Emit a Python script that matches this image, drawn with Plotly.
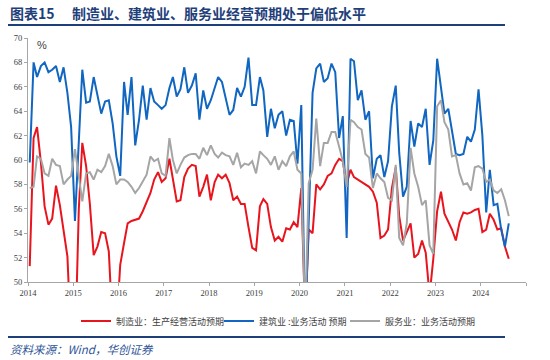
import pandas as pd
import plotly.graph_objects as go

# ---------------- data (monthly, 2014-01 .. 2024-08) ----------------
months = pd.date_range("2014-01-01", periods=128, freq="MS") + pd.Timedelta(days=14)

manufacturing = [
    51.3, 61.8, 62.7, 59.8, 56.2, 54.7, 55.2, 57.9, 56.3, 54.3, 52.1, 45.0,
    44.0, 56.0, 61.4, 59.5, 56.4, 52.2, 52.9, 54.1, 54.0, 52.5, 46.2, 46.0,
    51.4, 53.2, 54.8, 55.0, 55.1, 55.2, 55.8, 56.6, 57.3, 58.4, 59.0, 58.2,
    58.5, 60.1, 58.5, 56.6, 56.7, 58.6, 59.3, 59.6, 59.5, 57.0, 57.8, 58.8,
    56.7, 58.2, 58.8, 58.5, 58.8, 58.1, 56.7, 57.0, 56.4, 56.4, 54.5, 52.8,
    52.6, 56.2, 56.8, 56.4, 54.5, 53.4, 53.7, 53.3, 54.4, 54.3, 54.9, 54.5,
    57.7, 47.0, 54.3, 54.0, 58.0, 57.6, 58.0, 58.7, 58.9, 59.6, 60.1, 59.9,
    58.0, 59.2, 58.6, 58.4, 58.2, 58.0, 57.8, 57.4, 56.5, 53.6, 53.8, 54.3,
    57.7, 59.4, 55.4, 53.4, 54.1, 54.8, 52.0, 52.3, 53.4, 52.4, 48.9, 51.9,
    55.8, 57.4, 55.6, 54.9, 54.3, 53.4, 54.9, 55.7, 55.6, 55.7, 55.9, 56.0,
    54.1, 54.3, 55.6, 55.1, 54.3, 54.4, 52.9, 51.9,
]

construction = [
    59.8, 68.0, 66.8, 67.7, 68.0, 67.2, 67.4, 67.7, 66.4, 67.6, 65.5, 62.7,
    55.0, 61.2, 67.4, 64.7, 64.8, 66.8, 65.3, 63.8, 64.8, 64.9, 63.0, 60.3,
    58.7, 66.4, 63.7, 66.8, 61.2, 63.3, 66.1, 63.3, 65.9, 64.8, 64.5, 64.2,
    64.5, 65.9, 66.8, 65.2, 65.8, 67.6, 65.5, 66.1, 67.1, 63.3, 65.7, 64.2,
    64.9, 65.9, 66.8, 66.4, 65.1, 63.7, 64.1, 65.9, 65.2, 66.0, 68.4, 64.5,
    64.5, 66.8, 65.7, 61.9, 64.2, 62.6, 63.7, 64.0, 62.0, 63.3, 63.2, 59.7,
    64.5, 46.0, 55.0, 65.5, 67.5, 67.9, 66.4, 66.7, 67.9, 67.2, 61.8, 63.6,
    53.6, 68.3, 68.1, 64.9, 65.7, 63.3, 64.0, 58.5, 60.1, 60.4, 58.6, 59.9,
    64.4, 66.1, 60.6, 57.0, 57.8, 63.2, 61.1, 63.0, 62.7, 64.2, 59.6, 61.6,
    68.3, 65.7, 63.8, 64.2, 62.5, 60.5, 60.4, 60.5, 61.9, 61.5, 62.5, 65.8,
    62.0, 55.7, 59.2, 56.3, 56.4, 54.3, 52.9, 54.8,
]

services = [
    57.7, 57.8, 60.3, 60.1, 58.9, 58.7, 60.1, 59.6, 59.5, 58.0, 58.4, 58.7,
    60.9, 58.5, 56.6, 58.9, 59.0, 58.4, 59.2, 59.0, 59.5, 60.5, 59.5, 58.0,
    58.4, 58.4, 58.2, 57.8, 57.3, 57.7, 58.2, 58.8, 60.3, 59.9, 60.1, 58.9,
    58.7, 61.8, 60.0, 58.9, 59.6, 60.2, 60.4, 60.5, 60.5, 60.1, 61.0, 60.4,
    61.2, 60.5, 60.2, 60.6, 60.4, 60.3, 59.6, 60.6, 59.4, 59.7, 59.6, 59.9,
    58.9, 60.7, 60.4, 60.1, 59.6, 60.3, 59.2, 59.9, 59.5, 60.3, 60.7, 59.2,
    58.9, 47.0, 58.1, 59.2, 63.4, 59.5, 61.4, 61.4, 62.3, 62.3, 61.1, 59.9,
    57.8, 63.3, 63.1, 62.7, 62.5, 60.5, 60.2, 57.7, 58.9, 58.5, 58.2, 56.9,
    56.7, 59.6, 53.6, 53.0, 54.8, 61.0, 58.9, 57.8, 56.3, 56.7, 53.0, 52.3,
    64.4, 64.9, 63.1, 62.5, 60.3, 60.4, 58.9, 58.0, 58.1, 57.5, 59.4, 59.5,
    59.3, 58.2, 58.4, 57.5, 57.3, 57.6, 56.7, 55.4,
]

series_names = ["制造业：生产经营活动预期", "建筑业 :业务活动 预期", "服务业：业务活动预期"]
year_ticks = [str(y) for y in range(2014, 2025)]
y_ticks = [50, 52, 54, 56, 58, 60, 62, 64, 66, 68, 70]

title_label = "图表15"
title_text = "制造业、建筑业、服务业经营预期处于偏低水平"
source_text = "资料来源：Wind，华创证券"

# ---------------- layout geometry ----------------
W, H = 550, 360
L, R, T, B = 28, 24, 38, 78
PW, PH = W - L - R, H - T - B


def px(x):
    return (x - L) / PW


def py(y):
    return (H - B - y) / PH


colors = ["#E8151E", "#1066C0", "#A5A5A5"]
data_sets = [manufacturing, construction, services]
legend_ids = ["legend", "legend2", "legend3"]

fig = go.Figure()
for name, vals, col, lid in zip(series_names, data_sets, colors, legend_ids):
    fig.add_trace(go.Scatter(
        x=months, y=vals, mode="lines", name=name,
        line=dict(color=col, width=2), legend=lid,
    ))

tickvals = [f"{y}-01-01" for y in range(2014, 2026)]
ticktext = year_ticks + [""]

serif = "Liberation Serif, Times New Roman, serif"
cjk = "Noto Sans CJK SC, sans-serif"

legend_common = dict(
    orientation="h", yanchor="middle", xanchor="left",
    font=dict(family=cjk, size=9, color="#404040"),
    bgcolor="rgba(0,0,0,0)", itemwidth=30, tracegroupgap=0,
)

fig.update_layout(
    width=W, height=H,
    margin=dict(l=L, r=R, t=T, b=B, pad=0),
    paper_bgcolor="white", plot_bgcolor="white",
    showlegend=True,
    legend=dict(x=px(76), y=py(321), **legend_common),
    legend2=dict(x=px(219), y=py(321), **legend_common),
    legend3=dict(x=px(345), y=py(321), **legend_common),
    xaxis=dict(
        type="date", range=["2014-01-01", "2025-01-01"],
        tickmode="array", tickvals=tickvals, ticktext=ticktext,
        showgrid=False, zeroline=False,
        showline=True, linecolor="#A6A6A6", linewidth=1,
        ticks="outside", ticklen=3, tickcolor="#A6A6A6",
        tickfont=dict(family=serif, size=8.5, color="#404040"),
    ),
    yaxis=dict(
        range=[50, 70], tickmode="array", tickvals=y_ticks,
        ticktext=[str(v) for v in y_ticks],
        showgrid=False, zeroline=False,
        showline=True, linecolor="#A6A6A6", linewidth=1,
        ticks="outside", ticklen=3, tickcolor="#A6A6A6",
        tickfont=dict(family=serif, size=8.5, color="#404040"),
    ),
    shapes=[
        dict(type="line", xref="paper", yref="paper",
             x0=px(8), x1=px(505), y0=py(25), y1=py(25),
             line=dict(color="#1F3F7A", width=2)),
        dict(type="line", xref="paper", yref="paper",
             x0=px(8), x1=px(505), y0=py(337), y1=py(337),
             line=dict(color="#1F3F7A", width=2)),
    ],
    annotations=[
        dict(text="<b>" + title_label + "</b>", xref="paper", yref="paper",
             x=px(8), y=py(13), xanchor="left", yanchor="middle",
             showarrow=False, font=dict(family=cjk, size=14, color="#1F3F7A")),
        dict(text="<b>" + title_text + "</b>", xref="paper", yref="paper",
             x=px(70), y=py(13), xanchor="left", yanchor="middle",
             showarrow=False, font=dict(family=cjk, size=14, color="#1F3F7A")),
        dict(text="%", xref="paper", yref="paper",
             x=px(42), y=py(45), xanchor="center", yanchor="middle",
             showarrow=False, font=dict(family="Liberation Sans, Arial", size=11, color="#404040")),
        dict(text="<i>" + source_text + "</i>", xref="paper", yref="paper",
             x=px(8), y=py(349), xanchor="left", yanchor="middle",
             showarrow=False, font=dict(family=cjk, size=11.5, color="#2F5597")),
    ],
)

fig.write_html(
    "out.html",
    config={"displayModeBar": False},
    post_script="document.body.style.margin='0';document.body.style.overflow='hidden';",
)
